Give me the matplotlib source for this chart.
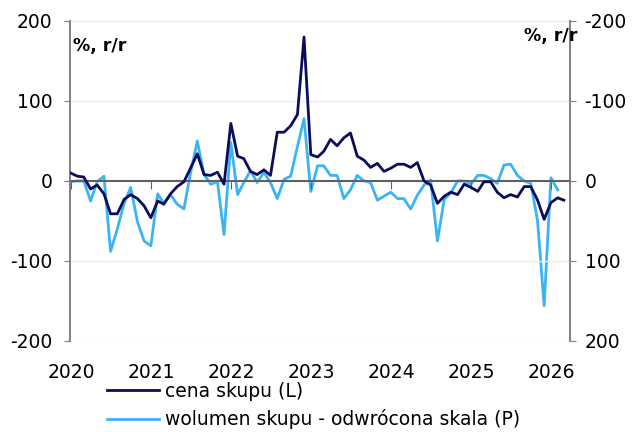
import pandas as pd
import matplotlib.pyplot as plt
import matplotlib.dates as mdates

# cena skupu r/r (%), lewa oś
cena = [10, 6, 5, -10, -5, -16, -41, -41, -23, -17, -22, -31,
        -46, -25, -29, -16, -7, -1, 16, 34, 8, 7, 11, -4,
        72, 31, 28, 12, 8, 14, 7, 61, 61, 69, 83, 180,
        33, 30, 37, 52, 44, 54, 60, 31, 26, 17, 22, 12,
        16, 21, 21, 17, 23, 0, -5, -28, -19, -14, -17, -4,
        -8, -13, -1, -1, -14, -21, -17, -20, -7, -7, -24, -48,
        -27, -21, -24]

# wolumen skupu r/r (%), prawa oś odwrócona
wolumen = [1, 0, 0, 25, 1, -6, 88, 60, 28, 8, 51, 75,
           81, 16, 28, 17, 29, 35, -10, -50, -8, 4, 1, 67,
           -48, 17, 2, -13, 2, -11, 2, 22, -2, -6, -43, -78,
           13, -19, -19, -7, -7, 22, 11, -7, 0, 2, 24, 19,
           14, 22, 22, 35, 18, 5, -1, 75, 23, 15, 0, 0,
           4, -7, -7, -3, 3, -20, -21, -7, 0, 3, 50, 156,
           -4, 11]

years = [2020, 2021, 2022, 2023, 2024, 2025, 2026]
left_ticks = [-200, -100, 0, 100, 200]

dates_c = pd.date_range('2020-01-01', periods=len(cena), freq='MS')
dates_w = pd.date_range('2020-01-01', periods=len(wolumen), freq='MS')

DARK = '#0c0c5c'
LIGHT = '#3bb4f6'
GREY = '#7f7f7f'
FS = 13.5

plt.rcParams['font.family'] = ['DejaVu Sans']

fig = plt.figure(figsize=(6.37, 4.32), dpi=100)
ax = fig.add_axes([70 / 637, 91 / 432, 500 / 637, 320 / 432])
ax2 = ax.twinx()

ax.set_ylim(-200, 200)
ax2.set_ylim(200, -200)
ax.set_xlim(pd.Timestamp('2019-12-29'), pd.Timestamp('2026-03-29'))

ax.set_yticks(left_ticks)
ax.set_yticklabels([str(v) for v in left_ticks])
ax2.set_yticks(left_ticks)
ax2.set_yticklabels([str(v) for v in left_ticks])
ax.yaxis.grid(True, color='#ececec', linewidth=1)
ax.set_axisbelow(True)

l1, = ax.plot(dates_c, cena, color=DARK, linewidth=2.0, label='cena skupu (L)', zorder=3)
l2, = ax2.plot(dates_w, wolumen, color=LIGHT, linewidth=2.0,
               label='wolumen skupu - odwrócona skala (P)', zorder=3)
ax.set_zorder(ax2.get_zorder() + 1)
ax.patch.set_visible(False)

for a in (ax, ax2):
    a.spines['top'].set_visible(False)
    a.spines['left'].set_color(GREY)
    a.spines['right'].set_color(GREY)
    a.spines['left'].set_linewidth(1.2)
    a.spines['right'].set_linewidth(1.2)
ax2.spines['bottom'].set_visible(False)

# oś X przecina w zerze, etykiety lat na dole
ax.spines['bottom'].set_position(('data', 0))
ax.spines['bottom'].set_color('#606060')
ax.spines['bottom'].set_linewidth(1.5)
ax.spines['bottom'].set_zorder(2)
ax.set_xticks([pd.Timestamp(f'{y}-01-01') for y in years])
ax.tick_params(axis='x', direction='out', length=6, color='#606060', labelbottom=False)

sec = ax.secondary_xaxis(0.0)
sec.set_xticks([pd.Timestamp(f'{y}-01-05') for y in years])
sec.xaxis.set_major_formatter(mdates.DateFormatter('%Y'))
sec.tick_params(axis='x', length=0, labelsize=FS, pad=16)
sec.spines['bottom'].set_visible(False)

ax.tick_params(axis='y', direction='out', length=4.5, color=GREY, labelsize=FS, pad=8)
ax2.tick_params(axis='y', direction='out', length=4.5, color=GREY, labelsize=FS, pad=6)

ax.text(0.006, 0.922, '%, r/r', transform=ax.transAxes, fontsize=12.5,
        fontweight='bold', ha='left', va='center')
ax.text(1.014, 0.953, '%, r/r', transform=ax.transAxes, fontsize=12.5,
        fontweight='bold', ha='right', va='center')

fig.legend(handles=[l1, l2], loc='upper left', bbox_to_anchor=(107 / 637, 1 - 382 / 432),
           frameon=False, fontsize=FS, handlelength=2.75, handletextpad=0.35,
           labelspacing=0.45, borderaxespad=0, borderpad=0)

fig.savefig('out.png', dpi=100)
